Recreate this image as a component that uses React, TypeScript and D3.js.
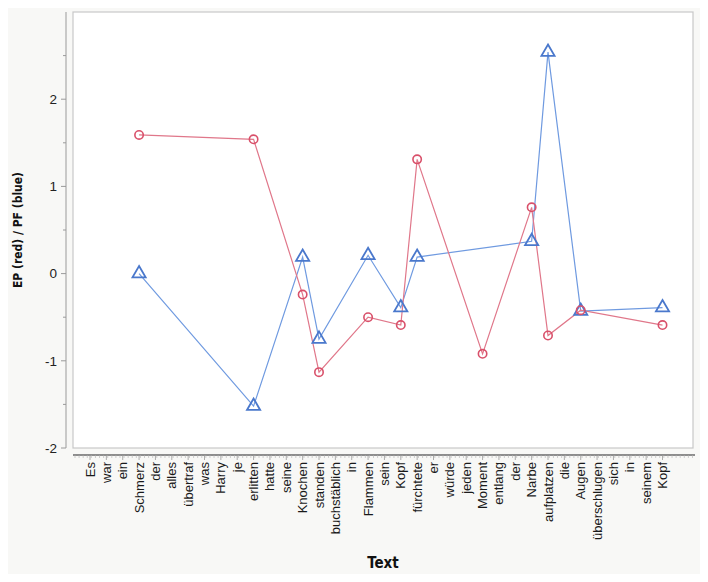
import { useEffect, useRef } from 'react';
import * as d3 from 'd3';

const words = [
  'Es', 'war', 'ein', 'Schmerz', 'der', 'alles', 'übertraf', 'was', 'Harry', 'je',
  'erlitten', 'hatte', 'seine', 'Knochen', 'standen', 'buchstäblich', 'in', 'Flammen',
  'sein', 'Kopf', 'fürchtete', 'er', 'würde', 'jeden', 'Moment', 'entlang', 'der',
  'Narbe', 'aufplatzen', 'die', 'Augen', 'überschlugen', 'sich', 'in', 'seinem', 'Kopf',
];

// [word index, value]
const epRed: [number, number][] = [
  [3, 1.59], [10, 1.54], [13, -0.24], [14, -1.13], [17, -0.5], [19, -0.59],
  [20, 1.31], [24, -0.92], [27, 0.76], [28, -0.71], [30, -0.42], [35, -0.59],
];

const pfBlue: [number, number][] = [
  [3, 0.0], [10, -1.52], [13, 0.19], [14, -0.75], [17, 0.21], [19, -0.39],
  [20, 0.19], [27, 0.37], [28, 2.54], [30, -0.43], [35, -0.39],
];

const yTicks = [-2, -1, 0, 1, 2];

export default function App() {
  const svgRef = useRef<SVGSVGElement>(null);

  useEffect(() => {
    if (!svgRef.current) return;
    const svg = d3.select(svgRef.current);
    svg.selectAll('*').remove();

    const W = 708;
    const H = 582;
    const frame = { left: 73, right: 693, top: 12, bottom: 448 };

    svg.append('rect').attr('width', W).attr('height', H).attr('fill', '#f8f8f6');

    // Plot area
    svg.append('rect')
      .attr('x', frame.left)
      .attr('y', frame.top)
      .attr('width', frame.right - frame.left)
      .attr('height', frame.bottom - frame.top)
      .attr('fill', '#ffffff')
      .attr('stroke', '#c8c8c8')
      .attr('stroke-width', 1.2);

    const idx = words.map((_, i) => i);
    const x = d3.scalePoint<number>().domain(idx).range([90, 662.5]);
    const y = d3.scaleLinear().domain([-2, 3]).range([frame.bottom, frame.top]);

    // Y axis
    const yAxis = svg.append('g').attr('transform', 'translate(66,0)');
    yAxis.append('line')
      .attr('y1', frame.top).attr('y2', frame.bottom)
      .attr('stroke', '#9a9a9a');
    yAxis.selectAll('.minor')
      .data(d3.range(-1.5, 3, 1))
      .enter()
      .append('line')
      .attr('x1', -3).attr('x2', 0)
      .attr('y1', (d) => y(d)).attr('y2', (d) => y(d))
      .attr('stroke', '#9a9a9a');
    yAxis.selectAll('.major')
      .data(yTicks)
      .enter()
      .append('line')
      .attr('x1', -5).attr('x2', 0)
      .attr('y1', (d) => y(d)).attr('y2', (d) => y(d))
      .attr('stroke', '#9a9a9a');
    yAxis.selectAll('text')
      .data(yTicks)
      .enter()
      .append('text')
      .attr('x', -9)
      .attr('y', (d) => y(d))
      .attr('dy', '0.35em')
      .attr('text-anchor', 'end')
      .attr('font-family', 'Liberation Sans, Arial, sans-serif')
      .attr('font-size', 13.5)
      .attr('fill', '#222')
      .text((d) => d);

    // X axis
    const axisY = 455;
    const step = x.step();
    svg.append('line')
      .attr('x1', frame.left).attr('x2', frame.right + 2)
      .attr('y1', axisY).attr('y2', axisY)
      .attr('stroke', '#6a6a6a')
      .attr('stroke-width', 1.5);
    const minor = d3.range(frame.left + 2, frame.right, step / 4);
    svg.append('g')
      .selectAll('line')
      .data(minor)
      .enter()
      .append('line')
      .attr('x1', (d) => d).attr('x2', (d) => d)
      .attr('y1', axisY).attr('y2', axisY + 3)
      .attr('stroke', '#b0b0b0')
      .attr('stroke-width', 0.6);
    svg.append('g')
      .selectAll('line')
      .data(idx)
      .enter()
      .append('line')
      .attr('x1', (d) => x(d)!).attr('x2', (d) => x(d)!)
      .attr('y1', axisY).attr('y2', axisY + 5)
      .attr('stroke', '#999')
      .attr('stroke-width', 0.8);
    svg.append('g')
      .selectAll('text')
      .data(idx)
      .enter()
      .append('text')
      .attr('transform', (d) => `translate(${x(d)},${axisY + 7}) rotate(-90)`)
      .attr('dy', '0.35em')
      .attr('text-anchor', 'end')
      .attr('font-family', 'Liberation Sans, Arial, sans-serif')
      .attr('font-size', 13)
      .attr('fill', '#1a1a1a')
      .text((d) => words[d]);

    // Axis titles
    svg.append('text')
      .attr('x', 383)
      .attr('y', 568)
      .attr('text-anchor', 'middle')
      .attr('font-family', 'DejaVu Sans Condensed, sans-serif')
      .attr('font-weight', 'bold')
      .attr('font-size', 15)
      .attr('fill', '#111')
      .text('Text');
    svg.append('text')
      .attr('transform', 'translate(22,230) rotate(-90)')
      .attr('text-anchor', 'middle')
      .attr('font-family', 'DejaVu Sans Condensed, sans-serif')
      .attr('font-weight', 'bold')
      .attr('font-size', 12)
      .attr('fill', '#111')
      .text('EP (red) / PF (blue)');

    const line = d3.line<[number, number]>()
      .x((d) => x(d[0])!)
      .y((d) => y(d[1]));

    // Blue series
    svg.append('path')
      .attr('d', line(pfBlue))
      .attr('fill', 'none')
      .attr('stroke', '#6f9ae0')
      .attr('stroke-width', 1.2);
    // Red series
    svg.append('path')
      .attr('d', line(epRed))
      .attr('fill', 'none')
      .attr('stroke', '#e0778a')
      .attr('stroke-width', 1.2);

    const tri = d3.symbol().type(d3.symbolTriangle).size(75);
    svg.selectAll('.tri')
      .data(pfBlue)
      .enter()
      .append('path')
      .attr('d', tri)
      .attr('transform', (d) => `translate(${x(d[0])},${y(d[1])})`)
      .attr('fill', 'none')
      .attr('stroke', '#4a78cc')
      .attr('stroke-width', 1.8);

    svg.selectAll('.circ')
      .data(epRed)
      .enter()
      .append('circle')
      .attr('cx', (d) => x(d[0])!)
      .attr('cy', (d) => y(d[1]))
      .attr('r', 4.2)
      .attr('fill', 'none')
      .attr('stroke', '#d9506a')
      .attr('stroke-width', 1.6);
  }, []);

  return (
    <div style={{ margin: -8 }}>
      <svg ref={svgRef} width={708} height={582} style={{ display: 'block' }} />
    </div>
  );
}
